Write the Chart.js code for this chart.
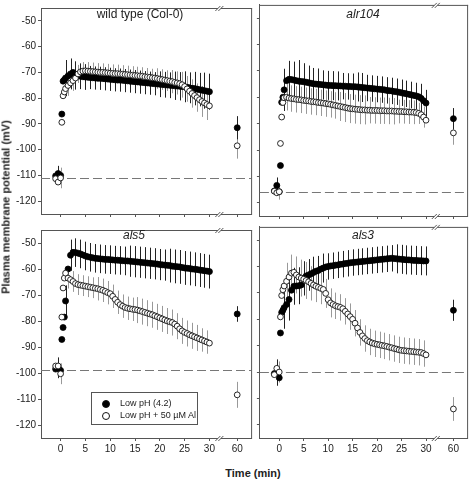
<!DOCTYPE html>
<html>
<head>
<meta charset="utf-8">
<script src="https://cdn.jsdelivr.net/npm/chart.js@4.4.1/dist/chart.umd.min.js"></script>
<style>
  body { margin: 0; background: #fff; }
  #fig { position: relative; width: 472px; height: 480px; overflow: hidden;
         font-family: "Liberation Sans", Arial, sans-serif; color: #222; }
  #fig canvas { position: absolute; }
  .lbl { position: absolute; transform: translate(-50%, -50%); white-space: nowrap; line-height: 1; }
  .ptitle { font-size: 12px; }
  .it { font-style: italic; }
  .axt { font-weight: bold; font-size: 11px; }
  #legend { position: absolute; left: 91px; top: 392px; width: 105px; height: 31px;
            border: 1px solid #555; font-size: 9px; }
  #legend .row { position: absolute; left: 0; height: 10px; line-height: 10px; }
  #legend .dot { position: absolute; left: 10px; top: 1.5px; width: 6px; height: 6px; border-radius: 50%;
                 border: 0.8px solid #111; }
  #legend .txt { position: absolute; left: 28px; top: 0; white-space: nowrap; }
</style>
</head>
<body>
<div id="fig">
  <canvas id="cTL" width="256" height="222" style="left:0;top:0"></canvas>
  <canvas id="cTR" width="217" height="222" style="left:255px;top:0"></canvas>
  <canvas id="cBL" width="256" height="236" style="left:0;top:222px"></canvas>
  <canvas id="cBR" width="217" height="236" style="left:255px;top:222px"></canvas>

  <div class="lbl ptitle" style="left:140px;top:14px">wild type (Col-0)</div>
  <div class="lbl ptitle it" style="left:363px;top:14px">alr104</div>
  <div class="lbl ptitle it" style="left:134px;top:235px">als5</div>
  <div class="lbl ptitle it" style="left:363px;top:235px">als3</div>

  <div class="lbl axt" style="left:6px;top:207px;transform:translate(-50%,-50%) rotate(-90deg)">Plasma membrane potential (mV)</div>
  <div class="lbl axt" style="left:253px;top:473px">Time (min)</div>

  <div id="legend">
    <div class="row" style="top:5px"><span class="dot" style="background:#000"></span><span class="txt">Low pH (4.2)</span></div>
    <div class="row" style="top:17px"><span class="dot" style="background:#fff"></span><span class="txt">Low pH + 50 µM Al</span></div>
  </div>
</div>

<script>
// sampling times (min); the 60 min point sits after the axis break
const times = [-1, -0.5, 0, 0.25, 0.5, 0.75,
  1, 1.5, 2, 2.5, 3, 3.5, 4, 4.5, 5,
  5.5, 6, 6.5, 7, 7.5, 8, 8.5, 9, 9.5, 10,
  10.5, 11, 11.5, 12, 12.5, 13, 13.5, 14, 14.5, 15,
  15.5, 16, 16.5, 17, 17.5, 18, 18.5, 19, 19.5, 20,
  20.5, 21, 21.5, 22, 22.5, 23, 23.5, 24, 24.5, 25,
  25.5, 26, 26.5, 27, 27.5, 28, 28.5, 29, 29.5, 30,
  60];

const xTickVals = [0, 5, 10, 15, 20, 25, 30, 60];
const xTickLabels = ['0', '5', '10', '15', '20', '25', '30', '60'];
const yTickVals = [-50, -60, -70, -80, -90, -100, -110, -120];

// initial membrane potential (dashed line) per panel: wt, alr104, als5, als3
const baselines = [-111, -116, -99, -100];

// wild type (Col-0)
const wtLow = [-110.2, -109.3, -110.0, -86.2, -73.4, -72.9,
  -72.2, -71.4, -70.6, -70.0, -71.2, -71.4, -71.5, -71.7, -71.8,
  -71.9, -72.0, -72.1, -72.2, -72.3, -72.3, -72.4, -72.5, -72.6, -72.7,
  -72.8, -72.9, -73.0, -73.0, -73.1, -73.2, -73.3, -73.4, -73.5, -73.6,
  -73.7, -73.8, -73.9, -74.0, -74.1, -74.2, -74.3, -74.4, -74.5, -74.6,
  -74.7, -74.8, -74.9, -75.0, -75.1, -75.2, -75.3, -75.4, -75.5, -75.6,
  -75.8, -76.0, -76.2, -76.3, -76.5, -76.7, -76.9, -77.1, -77.3, -77.5,
  -91.5];
const wtAl = [-111.3, -112.6, -111.0, -89.4, -79.1, -77.6,
  -76.3, -75.1, -74.1, -73.2, -72.2, -70.6, -69.8, -69.5, -69.4,
  -69.5, -69.6, -69.7, -69.8, -69.9, -70.0, -70.0, -70.1, -70.2, -70.3,
  -70.4, -70.5, -70.5, -70.6, -70.7, -70.8, -70.9, -71.0, -71.1, -71.2,
  -71.3, -71.4, -71.5, -71.7, -71.8, -71.9, -72.1, -72.2, -72.4, -72.6,
  -72.8, -73.0, -73.2, -73.4, -73.6, -73.9, -74.1, -74.4, -74.8, -75.5,
  -76.4, -77.3, -78.2, -79.0, -79.8, -80.6, -81.3, -81.9, -82.5, -83.0,
  -98.5];

// alr104
const alrLow = [-115.5, -113.4, -115.8, -105.9, -81.9, -80.0,
  -77.2, -73.7, -73.2, -73.3, -73.5, -73.7, -73.9, -74.0, -74.1,
  -74.3, -74.5, -74.7, -74.9, -75.0, -75.1, -75.2, -75.3, -75.4, -75.5,
  -75.5, -75.6, -75.6, -75.7, -75.7, -75.8, -75.8, -75.9, -75.9, -76.0,
  -76.0, -76.1, -76.2, -76.3, -76.4, -76.5, -76.6, -76.7, -76.8, -76.9,
  -77.0, -77.1, -77.2, -77.4, -77.5, -77.6, -77.8, -77.9, -78.1, -78.3,
  -78.5, -78.7, -78.9, -79.1, -79.3, -79.5, -79.8, -80.4, -81.3, -82.2,
  -88.1];
const alrAl = [-115.6, -116.2, -115.8, -97.5, -87.5, -82.0,
  -80.2, -80.0, -80.3, -80.5, -80.6, -80.8, -80.9, -81.0, -81.2,
  -81.3, -81.4, -81.6, -81.7, -81.8, -82.0, -82.1, -82.2, -82.4, -82.5,
  -82.7, -82.9, -83.1, -83.3, -83.5, -83.7, -83.9, -84.1, -84.3, -84.4,
  -84.5, -84.6, -84.7, -84.8, -84.8, -84.9, -84.9, -85.0, -85.0, -85.0,
  -85.1, -85.1, -85.1, -85.2, -85.2, -85.2, -85.3, -85.3, -85.4, -85.4,
  -85.5, -85.5, -85.6, -85.6, -85.7, -85.8, -86.1, -86.6, -87.5, -88.7,
  -93.5];

// als5
const als5Low = [-98.5, -98.0, -99.0, -87.1, -82.5, -78.5,
  -72.3, -60.0, -54.7, -53.6, -53.7, -53.9, -54.2, -54.6, -55.0,
  -55.3, -55.5, -55.7, -55.9, -56.0, -56.1, -56.2, -56.3, -56.3, -56.4,
  -56.5, -56.6, -56.6, -56.7, -56.8, -56.9, -56.9, -57.0, -57.1, -57.2,
  -57.3, -57.4, -57.5, -57.6, -57.7, -57.8, -57.9, -58.0, -58.1, -58.3,
  -58.4, -58.5, -58.6, -58.7, -58.9, -59.0, -59.1, -59.2, -59.4, -59.6,
  -59.7, -59.8, -60.0, -60.1, -60.2, -60.4, -60.5, -60.7, -60.8, -61.0,
  -77.3];
const als5Al = [-97.3, -97.3, -100.3, -78.5, -67.3, -63.5,
  -61.6, -63.5, -64.1, -64.8, -65.6, -66.0, -66.2, -66.4, -66.6,
  -66.8, -67.0, -67.2, -67.4, -67.6, -67.9, -68.2, -68.6, -69.1, -69.5,
  -70.5, -71.7, -72.8, -73.7, -74.3, -74.8, -75.1, -75.3, -75.5, -75.6,
  -75.8, -76.1, -76.4, -76.7, -77.0, -77.3, -77.6, -78.0, -78.4, -78.8,
  -79.2, -79.6, -80.0, -80.3, -80.6, -81.2, -82.0, -83.0, -83.8, -84.4,
  -84.8, -85.3, -85.7, -86.1, -86.5, -86.9, -87.3, -87.7, -88.1, -88.5,
  -108.4];

// als3
const als3Low = [-100.6, -100.2, -102.2, -85.2, -77.4, -76.6,
  -75.6, -74.4, -72.5, -69.0, -67.5, -67.4, -67.3, -67.0, -64.5,
  -63.6, -63.2, -62.8, -62.3, -61.8, -61.5, -61.0, -60.6, -60.2, -60.0,
  -59.8, -59.7, -59.5, -59.4, -59.2, -59.1, -58.9, -58.8, -58.6, -58.5,
  -58.4, -58.3, -58.2, -58.1, -58.0, -57.9, -57.8, -57.7, -57.6, -57.5,
  -57.4, -57.3, -57.2, -57.1, -57.0, -56.9, -57.0, -57.1, -57.2, -57.3,
  -57.4, -57.5, -57.5, -57.6, -57.7, -57.7, -57.8, -57.8, -57.9, -57.9,
  -76.6];
const als3Al = [-101.0, -98.6, -100.0, -79.1, -71.0, -68.8,
  -67.4, -65.6, -64.0, -62.5, -62.2, -63.2, -64.0, -64.4, -64.8,
  -65.3, -65.8, -66.4, -67.0, -67.5, -67.9, -68.3, -68.7, -70.2, -72.6,
  -73.8, -74.4, -74.9, -75.2, -75.5, -76.0, -77.0, -78.0, -79.0, -80.0,
  -81.5, -83.3, -85.0, -86.3, -87.3, -88.1, -88.6, -89.0, -89.3, -89.5,
  -89.7, -89.9, -90.1, -90.3, -90.6, -90.8, -91.1, -91.3, -91.6, -91.8,
  -91.9, -92.0, -92.1, -92.2, -92.3, -92.4, -92.5, -92.6, -93.0, -93.5,
  -114.0];

// SE bars: low pH bars at whole minutes, Al bars at the half minutes in between
const lowBarTimes = [-0.5, 1, 2, 3, 4, 5, 6, 7, 8, 9, 10, 11, 12, 13, 14, 15,
  16, 17, 18, 19, 20, 21, 22, 23, 24, 25, 26, 27, 28, 29, 30, 60];
const alBarTimes = [0, 1.5, 2.5, 3.5, 4.5, 5.5, 6.5, 7.5, 8.5, 9.5, 10.5, 11.5, 12.5, 13.5, 14.5,
  15.5, 16.5, 17.5, 18.5, 19.5, 20.5, 21.5, 22.5, 23.5, 24.5, 25.5, 26.5, 27.5, 28.5, 29.5, 60];

const wtLowErr = [3,
  7, 6, 5.5, 5, 5, 4.5, 4.5, 4.5, 4.5, 4.5,
  4.5, 4.5, 4.5, 4.5, 4.5, 4.5, 4.5, 4.5, 4.5, 5,
  5, 5, 5.5, 5.5, 6, 6, 6.5, 6.5, 7, 7,
  4.5];
const wtAlErr = [4,
  4, 4, 3.5, 3.5, 3.5, 3.5, 3.5, 3.5, 3.5, 3.5,
  3.5, 3.5, 3.5, 3.5, 3.5, 3.5, 3.5, 3.5, 4, 4,
  4, 4.5, 4.5, 5, 5, 5.5, 5.5, 6, 6,
  5];
const alrLowErr = [3,
  8, 7, 7, 8, 7, 6.5, 6, 6, 5.5, 5.5,
  5.5, 5.5, 5, 5, 5, 5.5, 5.5, 5, 5, 5,
  5, 5, 5, 5, 5, 5, 5, 5, 5.5, 5,
  4];
const alrAlErr = [3,
  5, 5, 5, 5, 5, 5, 5, 5, 5, 5,
  5, 5.5, 5.5, 5.5, 5.5, 5.5, 5.5, 5, 5, 5,
  5, 5, 5, 4.5, 4.5, 4.5, 4.5, 4, 4,
  4.5];
const als5LowErr = [4,
  6, 6, 5.5, 5.5, 5.5, 5.5, 5.5, 5.5, 5.5, 5.5,
  5.5, 5.5, 5.5, 6, 6, 6, 6, 6, 6, 6,
  6, 6.5, 6.5, 6.5, 6.5, 6.5, 6.5, 6.5, 6.5, 6.5,
  3];
const als5AlErr = [4,
  4, 4, 4, 4, 4, 4, 4.5, 4.5, 4.5, 4.5,
  4.5, 4.5, 4.5, 4.5, 5, 5, 5, 5, 5, 5,
  5, 5, 5, 5, 5, 5, 5, 4.5, 4.5,
  5];
const als3LowErr = [5,
  8, 8, 7, 7, 6.5, 6, 6, 5.5, 5.5, 5,
  5, 5, 5, 5, 5, 5, 5, 5, 5, 5,
  5, 5, 5, 5.5, 5.5, 5.5, 5.5, 5.5, 5.5, 5.5,
  4];
const als3AlErr = [4,
  7, 7, 7, 7, 7, 6.5, 6, 6, 5.5, 5.5,
  5, 5, 5, 5, 5, 5, 5, 5, 5, 5,
  5, 5, 5, 5, 5, 5, 5, 5, 5,
  4.5];

// axis break: 60 min is drawn at 35.6 on the linear scale, the // marks at 32
const SIXTY_POS = 35.6;
const BREAK_POS = 32;
const FRAME = '#555';
const FONT = '"Liberation Sans", Arial, sans-serif';

function placeX(t) {
    return t > 30 ? SIXTY_POS : t;
}

function toPoints(vals) {
    return times.map((t, i) => ({ x: placeX(t), y: vals[i] }));
}

// dashed baseline + error bars under the markers, frame and break marks on top
const panelDeco = {
    id: 'panelDeco',
    beforeDatasetsDraw(chart, args, opts) {
        const { ctx, chartArea, scales: { x, y } } = chart;
        ctx.save();

        // initial potential
        const by = Math.round(y.getPixelForValue(opts.baseline)) + 0.5;
        ctx.strokeStyle = '#777';
        ctx.lineWidth = 1;
        ctx.setLineDash([9, 4]);
        ctx.beginPath();
        ctx.moveTo(chartArea.left, by);
        ctx.lineTo(chartArea.right, by);
        ctx.stroke();
        ctx.setLineDash([]);

        chart.data.datasets.forEach(ds => {
            ctx.strokeStyle = ds.barColor;
            ctx.beginPath();
            ds.barTimes.forEach((t, k) => {
                const i = times.indexOf(t);
                const e = ds.barErrs[k];
                if (i < 0 || !e) return;
                const pt = ds.data[i];
                const px = Math.round(x.getPixelForValue(pt.x)) + 0.5;
                ctx.moveTo(px, y.getPixelForValue(pt.y + e));
                ctx.lineTo(px, y.getPixelForValue(pt.y - e));
            });
            ctx.stroke();
        });
        ctx.restore();
    },
    afterDraw(chart) {
        const { ctx, chartArea, scales: { x } } = chart;
        const { left, right, top, bottom } = chartArea;
        ctx.save();
        ctx.strokeStyle = FRAME;
        ctx.lineWidth = 1;
        ctx.beginPath();
        ctx.moveTo(left, top + 0.5);
        ctx.lineTo(right + 1, top + 0.5);
        ctx.moveTo(right + 0.5, top);
        ctx.lineTo(right + 0.5, bottom + 1);
        ctx.stroke();

        // the // marks where the time axis jumps from 30 to 60 min
        const bx = x.getPixelForValue(BREAK_POS);
        [top + 0.5, bottom + 0.5].forEach(yy => {
            ctx.fillStyle = '#fff';
            ctx.fillRect(bx - 1.5, yy - 1.5, 3, 3);
            ctx.beginPath();
            [-1.5, 1.5].forEach(o => {
                ctx.moveTo(bx + o - 2.5, yy + 2.5);
                ctx.lineTo(bx + o + 2.5, yy - 2.5);
            });
            ctx.stroke();
        });
        ctx.restore();
    }
};

function makePanel(id, low, al, lowErr, alErr, baseline, cfg) {
    const canvas = document.getElementById(id);
    return new Chart(canvas.getContext('2d'), {
        type: 'scatter',
        data: {
            datasets: [
                {
                    label: 'Low pH + 50 µM Al',
                    data: toPoints(al),
                    order: 0,
                    pointRadius: 2.9,
                    pointBorderWidth: 0.9,
                    pointBackgroundColor: '#fff',
                    pointBorderColor: '#111',
                    barTimes: alBarTimes,
                    barErrs: alErr,
                    barColor: '#999'
                },
                {
                    label: 'Low pH (4.2)',
                    data: toPoints(low),
                    order: 1,
                    pointRadius: 3,
                    pointBorderWidth: 0.8,
                    pointBackgroundColor: '#000',
                    pointBorderColor: '#000',
                    barTimes: lowBarTimes,
                    barErrs: lowErr,
                    barColor: '#222'
                }
            ]
        },
        options: {
            responsive: false,
            animation: false,
            events: [],
            layout: { padding: { left: 0, top: cfg.padTop, right: cfg.padRight, bottom: 0 } },
            plugins: {
                legend: { display: false },
                tooltip: { enabled: false },
                panelDeco: { baseline }
            },
            scales: {
                x: {
                    type: 'linear',
                    min: -3.95,
                    max: 38.4,
                    afterBuildTicks: s => { s.ticks = xTickVals.map(t => ({ value: placeX(t) })); },
                    afterFit: s => { s.height = cfg.xH; },
                    ticks: {
                        display: cfg.xLabels,
                        autoSkip: false,
                        maxRotation: 0,
                        padding: 2,
                        color: '#222',
                        font: { family: FONT, size: 10 },
                        callback: (v, i) => xTickLabels[i]
                    },
                    grid: { drawOnChartArea: false, tickLength: 3, color: FRAME },
                    border: { color: FRAME }
                },
                y: {
                    type: 'linear',
                    min: -125,
                    max: -45,
                    afterBuildTicks: s => { s.ticks = yTickVals.map(v => ({ value: v })); },
                    afterFit: s => { s.width = cfg.yW; },
                    ticks: {
                        display: cfg.yLabels,
                        padding: 2,
                        color: '#222',
                        font: { family: FONT, size: 10 },
                        callback: v => String(v)
                    },
                    grid: { drawOnChartArea: false, tickLength: 3, color: FRAME },
                    border: { color: FRAME }
                }
            }
        },
        plugins: [panelDeco]
    });
}

makePanel('cTL', wtLow, wtAl, wtLowErr, wtAlErr, baselines[0],
    { padTop: 3, padRight: 4, yW: 41, xH: 6, xLabels: false, yLabels: true });
makePanel('cTR', alrLow, alrAl, alrLowErr, alrAlErr, baselines[1],
    { padTop: 3, padRight: 1, yW: 4, xH: 6, xLabels: false, yLabels: false });
makePanel('cBL', als5Low, als5Al, als5LowErr, als5AlErr, baselines[2],
    { padTop: 4, padRight: 4, yW: 41, xH: 20, xLabels: true, yLabels: true });
makePanel('cBR', als3Low, als3Al, als3LowErr, als3AlErr, baselines[3],
    { padTop: 4, padRight: 1, yW: 4, xH: 20, xLabels: true, yLabels: false });
</script>
</body>
</html>
